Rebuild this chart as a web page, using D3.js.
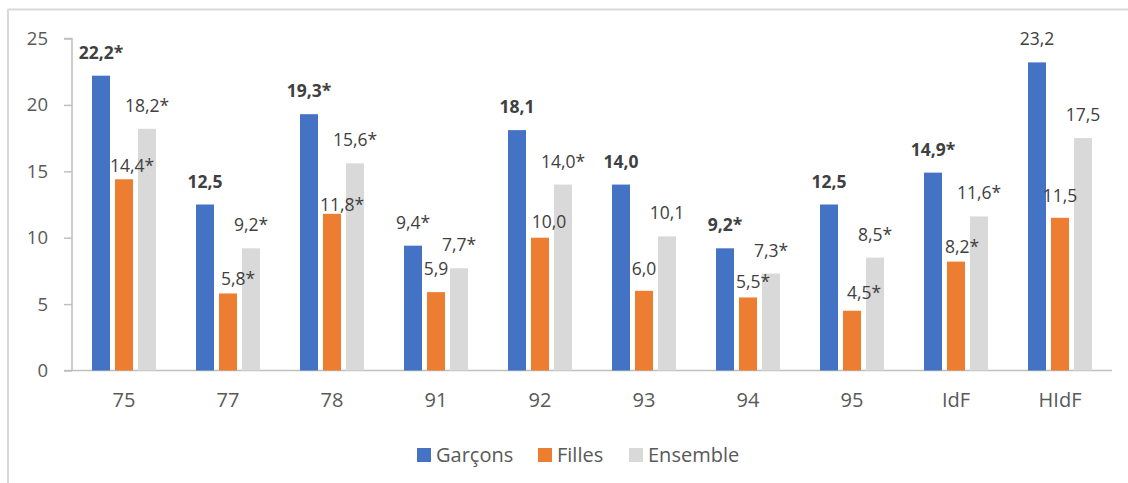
<!DOCTYPE html>
<html>
<head>
<meta charset="utf-8">
<script src="https://cdn.jsdelivr.net/npm/d3@7"></script>
<style>
  html, body { margin: 0; padding: 0; background: #fff; }
  svg { display: block; font-family: "Open Sans", "Noto Sans", sans-serif; }
</style>
</head>
<body>
<svg id="chart" width="1128" height="483"></svg>
<script>
// Départements and aggregates shown on the x axis
const categories = ["75", "77", "78", "91", "92", "93", "94", "95", "IdF", "HIdF"];
const seriesNames = ["Garçons", "Filles", "Ensemble"];

// Percentages per group
const garcons  = [22.2, 12.5, 19.3, 9.4, 18.1, 14.0, 9.2, 12.5, 14.9, 23.2];
const filles   = [14.4, 5.8, 11.8, 5.9, 10.0, 6.0, 5.5, 4.5, 8.2, 11.5];
const ensemble = [18.2, 9.2, 15.6, 7.7, 14.0, 10.1, 7.3, 8.5, 11.6, 17.5];

// Significance markers (*) per value
const garconsStar  = [true, false, true, true, false, false, true, false, true, false];
const fillesStar   = [true, true, true, false, false, false, true, true, true, false];
const ensembleStar = [true, true, true, true, true, false, true, true, true, false];

// Bold labels (boys only)
const garconsBold = [true, true, true, false, true, true, true, true, true, false];

const yTicks = [0, 5, 10, 15, 20, 25];
const colors = ["#4472C4", "#ED7D31", "#D9D9D9"];

// Label nudges [dx, gap above bar] for the girls' series where labels were moved
const fillesNudge = [[8, 7], [10, 8.5], [10, 3], [0, 17], [9, 10], [0, 16], [5, 9.5], [12, 12], [6, 8.6], [0, 16]];

const values = [garcons, filles, ensemble];
const stars = [garconsStar, fillesStar, ensembleStar];

const svg = d3.select("#chart");

// frame lines
svg.append("line").attr("x1", 8).attr("x2", 1128).attr("y1", 9.5).attr("y2", 9.5)
  .attr("stroke", "#d9d9d9").attr("stroke-width", 2);
svg.append("line").attr("x1", 8).attr("x2", 8).attr("y1", 9).attr("y2", 483)
  .attr("stroke", "#d9d9d9").attr("stroke-width", 2);

const x0 = d3.scaleBand().domain(categories).range([72, 1112]);
const x1 = d3.scaleBand().domain(seriesNames).range([-34.5, 34.5])
  .paddingInner(5 / 23).paddingOuter(2.5 / 23);
const y = d3.scaleLinear().domain([0, 25]).range([370.5, 38.5]);

// y axis
const yAxis = svg.append("g").attr("transform", "translate(72,0)")
  .call(d3.axisLeft(y).tickValues(yTicks).tickSize(8).tickPadding(16));
yAxis.select(".domain").attr("stroke", "#bfbfbf").attr("stroke-width", 1.5)
  .attr("d", `M-8,${y(25)}H0V${y(0)}`);
yAxis.selectAll(".tick line").attr("stroke", "#bfbfbf").attr("stroke-width", 1.5);
yAxis.selectAll(".tick text").attr("fill", "#595959").style("font-size", "18.5px")
  .style("font-family", "\"Open Sans\", sans-serif");

// x axis
const xAxis = svg.append("g").attr("transform", `translate(0,${y(0)})`)
  .call(d3.axisBottom(x0).tickSize(0).tickPadding(22));
xAxis.select(".domain").attr("stroke", "#bfbfbf").attr("stroke-width", 1.5)
  .attr("d", "M64,0H1112");
xAxis.selectAll(".tick text").attr("fill", "#595959").style("font-size", "20px")
  .style("font-family", "\"Open Sans\", sans-serif");

const fmt = v => d3.format(".1f")(v).replace(".", ",");

const groups = svg.append("g").selectAll("g").data(categories).join("g")
  .attr("transform", c => `translate(${x0(c) + x0.bandwidth() / 2},0)`);

// bars first, so that every label sits above them
seriesNames.forEach((s, si) => {
  groups.append("rect")
    .attr("x", x1(s))
    .attr("width", x1.bandwidth())
    .attr("y", (c, i) => y(values[si][i]))
    .attr("height", (c, i) => y(0) - y(values[si][i]))
    .attr("fill", colors[si]);
});

seriesNames.forEach((s, si) => {
  groups.append("text")
    .attr("text-anchor", "middle")
    .attr("x", (c, i) => x1(s) + x1.bandwidth() / 2 + (si === 1 ? fillesNudge[i][0] : 0))
    .attr("y", (c, i) => y(values[si][i]) - (si === 1 ? fillesNudge[i][1] : 17))
    .attr("fill", "#404040")
    .style("font-size", "17.5px")
    .style("font-weight", (c, i) => (si === 0 && garconsBold[i]) ? "bold" : "normal")
    .text((c, i) => fmt(values[si][i]) + (stars[si][i] ? "*" : ""));
});

// legend
const legendX = [417, 538, 629];
const legend = svg.append("g").selectAll("g").data(seriesNames).join("g")
  .attr("transform", (d, i) => `translate(${legendX[i]},448)`);
legend.append("rect").attr("width", 14).attr("height", 14).attr("fill", (d, i) => colors[i]);
legend.append("text").attr("x", 19).attr("y", 13.5).attr("fill", "#595959")
  .style("font-size", "20px").text(d => d);
</script>
</body>
</html>
